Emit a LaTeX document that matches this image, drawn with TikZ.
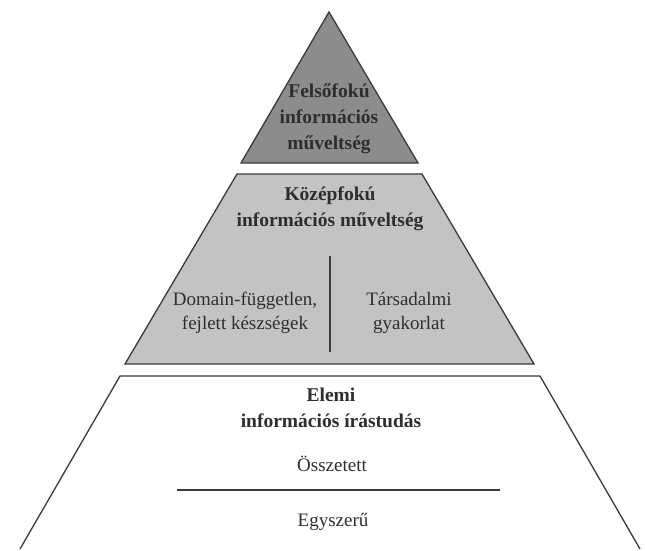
\documentclass[tikz,border=0pt]{standalone}
\usepackage{fontspec}
\setmainfont{Liberation Serif}
\definecolor{edge}{HTML}{3A3A3A}
\definecolor{topfill}{HTML}{8C8C8C}
\definecolor{midfill}{HTML}{C3C3C3}
\definecolor{ink}{HTML}{2E2E2E}
\begin{document}
\begin{tikzpicture}[x=1pt,y=-1pt,
  shape edge/.style={draw=edge, line width=1.3pt, line join=miter},
  title/.style={font=\fontsize{19.5}{26}\selectfont\bfseries, text=ink, align=center, inner sep=0pt},
  label/.style={font=\fontsize{19}{24.5}\selectfont, text=ink, align=center, inner sep=0pt},
  rule/.style={draw=edge, line width=1.3pt}]
\useasboundingbox (0,0) rectangle (645,551);
% top triangle
\path[shape edge, fill=topfill] (329,12) -- (418,163) -- (241,163) -- cycle;
% middle trapezoid
\path[shape edge, fill=midfill] (237,174) -- (422,174) -- (534,364) -- (125,364) -- cycle;
% bottom trapezoid (open at bottom)
\path[shape edge] (20,549) -- (120,376) -- (540,376) -- (640,549);
% texts
\node[title] (felso) at (329,119) {Felsőfokú\\információs\\műveltség};
\node[title] (kozep) at (330,209) {Középfokú\\információs műveltség};
\node[label] (domain) at (245,313) {Domain-független,\\fejlett készségek};
\node[label] (tars) at (409,313) {Társadalmi\\gyakorlat};
\node[title] (elemi) at (331,408) {Elemi\\információs írástudás};
\node[label] (ossz) at (332,464) {Összetett};
\node[label] (egy) at (333,522) {Egyszerű};
% dividers
\coordinate (vtop) at (330,256);
\coordinate (vbot) at (330,352);
\draw[rule] (vtop) -- (vbot);
\coordinate (hl) at (177,490);
\coordinate (hr) at (500,490);
\draw[rule] (hl) -- (hr);
\end{tikzpicture}
\end{document}
